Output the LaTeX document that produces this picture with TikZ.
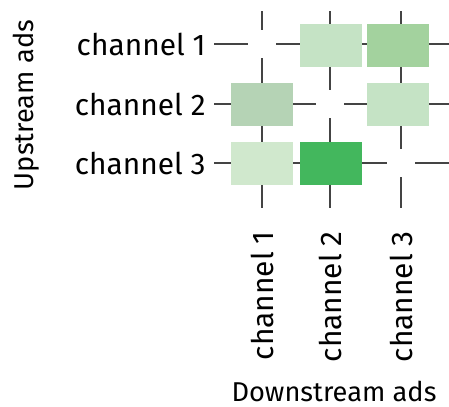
\documentclass[tikz,border=0pt]{standalone}
\usepackage{fontspec}
\setmainfont{Fira Sans}
\usetikzlibrary{positioning}

\definecolor{gridgray}{HTML}{444444}
\definecolor{lightA}{HTML}{C5E3C5}
\definecolor{lightB}{HTML}{D0E8CD}
\definecolor{midA}{HTML}{A3D29E}
\definecolor{grayA}{HTML}{B5D3B5}
\definecolor{darkA}{HTML}{43B75D}

\tikzset{
  gridline/.style={gridgray, line width=1.4pt},
  cell/.style={minimum width=1.24cm, minimum height=0.86cm, inner sep=0pt},
  hole/.style={fill=white, minimum size=0.56cm, inner sep=0pt},
  lbl/.style={font=\fontsize{17}{20}\selectfont, inner sep=0pt},
  title/.style={font=\fontsize{15.5}{19}\selectfont, inner sep=0pt}
}

\begin{document}
\begin{tikzpicture}[x=0.02cm,y=-0.02cm]
  \useasboundingbox (0,0) rectangle (449,406);

  % Draw the grid lines first
  \foreach \x in {262,330,401}
    \draw[gridline] (\x,11) -- (\x,208);
  \foreach \y in {44,104,163}
    \draw[gridline] (214,\y) -- (449,\y);

  % Empty cells leave a gap in the lines
  \node[hole] (c11) at (262,44) {};
  \node[hole] (c22) at (330,104) {};
  \node[hole] (c33) at (401,163) {};

  % Fill the cells
  \node[cell, fill=lightA] (c12) at (331,45.5) {};
  \node[cell, fill=midA]   (c13) at (398,45.5) {};
  \node[cell, fill=grayA]  (c21) at (262,104.5) {};
  \node[cell, fill=lightA] (c23) at (398,104.5) {};
  \node[cell, fill=lightB] (c31) at (262,163.5) {};
  \node[cell, fill=darkA]  (c32) at (331,163.5) {};

  % Label rows and columns
  \foreach \n/\y in {1/44, 2/104, 3/163}
    \node[lbl, anchor=east] (row\n) at (206,\y) {channel \n};
  \foreach \n/\x in {1/262, 2/330, 3/401}
    \node[lbl, anchor=east, rotate=90] (col\n) at (\x,231) {channel \n};

  % Axis titles
  \node[title, rotate=90] (up) at (26,105) {Upstream ads};
  \node[title] (down) at (334,391) {Downstream ads};
\end{tikzpicture}
\end{document}
